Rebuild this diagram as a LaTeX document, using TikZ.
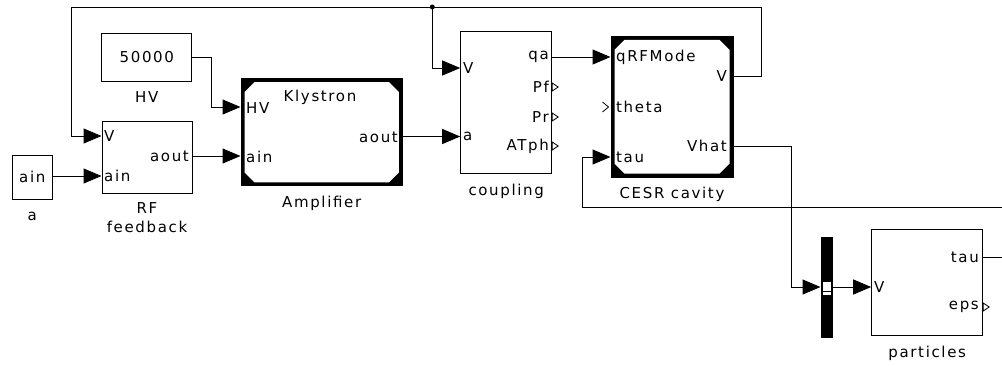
\documentclass[tikz,border=0pt]{standalone}
\usepackage{fontspec}
\setmainfont{DejaVu Sans}[LetterSpace=11]
\usetikzlibrary{arrows.meta}
\tikzset{
  blk/.style={draw, line width=1pt, inner sep=0pt},
  mblk/.style={inner sep=0pt},
  txt/.style={inner sep=0pt, font=\fontsize{15}{17}\selectfont},
  sig/.style={line width=1pt},
  oport/.style={line width=0.8pt, line join=miter},
}
% black frame with cut corners of a masked block
\newcommand\maskframe[1]{%
  \fill (#1.north west) rectangle (#1.south east);
  \fill[white] ([shift={(4,14)}]#1.north west) -- ([shift={(14,4)}]#1.north west)
    -- ([shift={(-14,4)}]#1.north east) -- ([shift={(-4,14)}]#1.north east)
    -- ([shift={(-4,-14)}]#1.south east) -- ([shift={(-14,-4)}]#1.south east)
    -- ([shift={(14,-4)}]#1.south west) -- ([shift={(4,-14)}]#1.south west) -- cycle;}
\begin{document}
\begin{tikzpicture}[x=1pt, y=-1pt, >={Triangle[length=18pt,width=15pt]}]
  \useasboundingbox (0,0) rectangle (1002,365);
  % blocks
  \node[blk, minimum width=90, minimum height=48] (hv) at (146.8,57) {};
  \node[blk, minimum width=90, minimum height=72] (rffb) at (147,157) {};
  \node[blk, minimum width=40, minimum height=44] (ain) at (32.3,177) {};
  \node[mblk, minimum width=162, minimum height=108] (amp) at (321.7,132.2) {};
  \node[blk, minimum width=91, minimum height=142] (coupling) at (506.2,102) {};
  \node[mblk, minimum width=122.6, minimum height=141.3] (cavity) at (672,106.7) {};
  \node[fill, inner sep=0pt, minimum width=12, minimum height=101] (mux) at (826.7,287.8) {};
  \node[blk, minimum width=111, minimum height=106.4] (particles) at (927.2,282.5) {};
  \maskframe{amp}
  \maskframe{cavity}
  \fill[white] (823,282) rectangle (831,295);
  \draw[line width=0.8pt] (823,291) -- (831,291);

  % texts in the blocks
  \node[txt] (hv-val) at (hv) {50000};
  \node[txt] (ain-txt) at (ain) {ain};
  \node[txt, anchor=west] (rffb-v) at (104,136) {V};
  \node[txt, anchor=west] (rffb-ain) at (104,176) {ain};
  \node[txt, anchor=east] (rffb-aout) at (189,156) {aout};
  \node[txt, anchor=west] (amp-hv) at (246,108) {HV};
  \node[txt, anchor=west] (amp-ain) at (246,157) {ain};
  \node[txt, anchor=east] (amp-aout) at (398,137) {aout};
  \node[txt] (amp-name) at (320,97) {Klystron};
  \node[txt, anchor=west] (cp-v) at (463,68) {V};
  \node[txt, anchor=west] (cp-a) at (463,136) {a};
  \node[txt, anchor=east] (cp-qa) at (549,57) {qa};
  \node[txt, anchor=east] (cp-pf) at (549,87) {Pf};
  \node[txt, anchor=east] (cp-pr) at (549,117) {Pr};
  \node[txt, anchor=east] (cp-atph) at (549,146) {ATph};
  \node[txt, anchor=west] (cav-q) at (616,57) {qRFMode};
  \node[txt, anchor=west] (cav-theta) at (616,107) {theta};
  \node[txt, anchor=west] (cav-tau) at (616,157) {tau};
  \node[txt, anchor=east] (cav-v) at (727,76) {V};
  \node[txt, anchor=east] (cav-vhat) at (727,146) {Vhat};
  \node[txt, anchor=west] (pt-v) at (874,287) {V};
  \node[txt, anchor=east] (pt-tau) at (979,257) {tau};
  \node[txt, anchor=east] (pt-eps) at (979,307) {eps};

  % names below the blocks
  \node[txt] (hv-lbl) at (146.8,97) {HV};
  \node[txt] (ain-lbl) at (32.3,216) {a};
  \node[txt] (rffb-lbl) at (147,208) {RF};
  \node[txt] (rffb-lbl2) at (147,227) {feedback};
  \node[txt] (amp-lbl) at (321.7,203) {Amplifier};
  \node[txt] (cp-lbl) at (506.2,191) {coupling};
  \node[txt] (cav-lbl) at (672,194) {CESR cavity};
  \node[txt] (pt-lbl) at (927.2,353) {particles};

  % free ports
  \foreach \y in {87,117,146}
    \draw[oport] (coupling.east |- 0,\y-4) -- ++(6,4) -- ++(-6,4) -- cycle;
  \draw[oport] (particles.east |- 0,303) -- ++(6,4) -- ++(-6,4) -- cycle;
  \draw[oport] ([xshift=-8]cavity.west |- 0,102) -- ++(6,5) -- ++(-6,5);

  % signals
  \coordinate (jn) at (432.3,7);
  \coordinate (edge1) at (1002,207);
  \coordinate (edge2) at (1002,257);
  \draw[sig, ->] (cavity.east |- 0,76) -| (761.7,7) -- (71,7) |- (rffb.west |- 0,136);
  \fill (jn) circle (2.5);
  \draw[sig, ->] (jn) |- (coupling.west |- 0,68);
  \draw[sig, ->] (hv.east) -| (211,107) -- (amp.west |- 0,107);
  \draw[sig, ->] (ain.east |- 0,176) -- (rffb.west |- 0,176);
  \draw[sig, ->] (rffb.east |- 0,156) -- (amp.west |- 0,156);
  \draw[sig, ->] (amp.east |- 0,136.5) -- (coupling.west |- 0,136.5);
  \draw[sig, ->] (coupling.east |- 0,57) -- (cavity.west |- 0,57);
  \draw[sig, ->] (cavity.east |- 0,146) -| (791.5,287) -- (mux.west |- 0,287);
  \draw[sig, ->] (mux.east |- 0,287) -- (particles.west |- 0,287);
  \draw[sig, ->] (edge1) -- (582.3,207) |- (cavity.west |- 0,157);
  \draw[sig] (particles.east |- 0,257) -- (edge2);
\end{tikzpicture}
\end{document}
